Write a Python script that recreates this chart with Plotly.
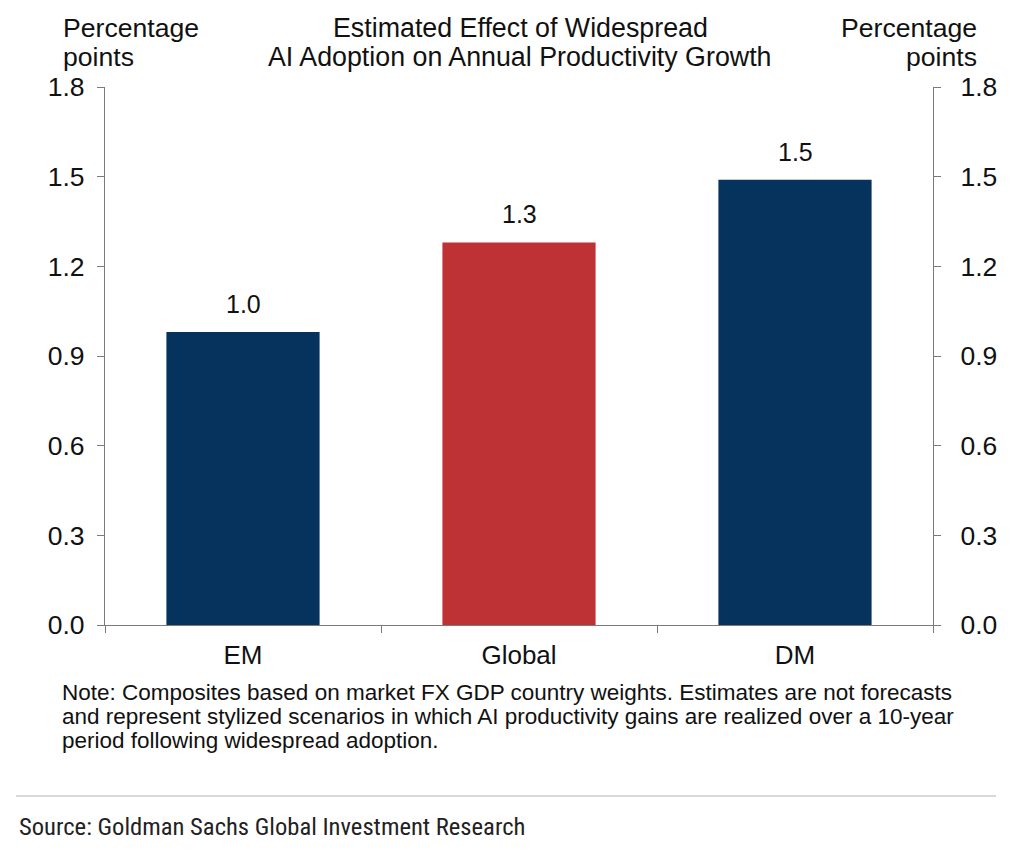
import plotly.graph_objects as go

categories = ["EM", "Global", "DM"]
values = [0.98, 1.28, 1.49]
labels = ["1.0", "1.3", "1.5"]
colors = ["#06325e", "#be3135", "#06325e"]
tick_vals = [0.0, 0.3, 0.6, 0.9, 1.2, 1.5, 1.8]
tick_text = ["0.0", "0.3", "0.6", "0.9", "1.2", "1.5", "1.8"]
title_lines = ["Estimated Effect of Widespread", "AI Adoption on Annual Productivity Growth"]
note_lines = [
    "Note: Composites based on market FX GDP country weights. Estimates are not forecasts",
    "and represent stylized scenarios in which AI productivity gains are realized over a 10-year",
    "period following widespread adoption.",
]
source_text = "Source: Goldman Sachs Global Investment Research"

FONT = "Liberation Sans, Arial, sans-serif"
AX = "#7a7a7a"
TXT = "#111111"

W, H = 1024, 853
L, R, T, B = 105, 91, 87, 228
PH = H - T - B
PW = W - L - R


def py(pix):
    return (H - B - pix) / PH


def px(pix):
    return (pix - L) / PW


fig = go.Figure()
fig.add_trace(go.Bar(
    x=categories, y=values, marker=dict(color=colors, line=dict(width=0)),
    width=0.555, hoverinfo="skip", showlegend=False,
))
fig.add_trace(go.Bar(
    x=categories, y=values, yaxis="y2", opacity=0, width=0.555,
    hoverinfo="skip", showlegend=False,
))

yax = dict(range=[0, 1.8], tickvals=tick_vals, ticktext=tick_text,
           showgrid=False, zeroline=False, showline=True, linecolor=AX, linewidth=1.2,
           ticks="outside", ticklen=7, tickcolor=AX, tickwidth=1.2,
           tickfont=dict(family=FONT, size=26.5, color=TXT))

fig.update_layout(
    width=W, height=H,
    margin=dict(l=L, r=R, t=T, b=B),
    paper_bgcolor="white", plot_bgcolor="white",
    barmode="overlay",
    xaxis=dict(showgrid=False, zeroline=False, showline=True, linecolor=AX, linewidth=1.2,
               ticks="outside", ticklen=7, tickcolor=AX, tickwidth=1.2,
               tickson="boundaries", ticklabelstandoff=7,
               tickfont=dict(family=FONT, size=26, color=TXT)),
    yaxis=dict(**yax, side="left", ticklabelstandoff=7),
    yaxis2=dict(**yax, side="right", overlaying="y", ticklabelstandoff=14),
    font=dict(family=FONT, color=TXT),
)

# bar value labels
for c, v, t in zip(categories, values, labels):
    fig.add_annotation(x=c, y=v, xref="x", yref="y", text=t, showarrow=False,
                       yanchor="bottom", yshift=12,
                       font=dict(family=FONT, size=25, color=TXT))

# title
for i, line in enumerate(title_lines):
    fig.add_annotation(x=px(520), y=py(28 + 29 * i), xref="paper", yref="paper",
                       xanchor="center", yanchor="middle", showarrow=False, text=line,
                       font=dict(family=FONT, size=26.8, color=TXT))

# axis titles
for i, line in enumerate(["Percentage", "points"]):
    fig.add_annotation(x=px(61), y=py(28 + 29 * i), xref="paper", yref="paper",
                       xanchor="left", yanchor="middle", showarrow=False, text=line,
                       font=dict(family=FONT, size=26.6, color=TXT))
    fig.add_annotation(x=px(979), y=py(28 + 29 * i), xref="paper", yref="paper",
                       xanchor="right", yanchor="middle", showarrow=False, text=line,
                       font=dict(family=FONT, size=26.6, color=TXT))

# note
for i, line in enumerate(note_lines):
    fig.add_annotation(x=px(60), y=py(692 + 24 * i), xref="paper", yref="paper",
                       xanchor="left", yanchor="middle", showarrow=False, text=line,
                       font=dict(family=FONT, size=22.5, color=TXT))

fig.add_shape(type="line", xref="paper", yref="paper", x0=px(16), x1=px(996),
              y0=py(796), y1=py(796), line=dict(color="#cccccc", width=1.5))
fig.add_annotation(x=px(17), y=py(826), xref="paper", yref="paper",
                   xanchor="left", yanchor="middle", showarrow=False, text=source_text,
                   font=dict(family="Liberation Sans Narrow, Roboto Condensed, sans-serif",
                             size=24.6, color="#222222"))

fig.write_html("out.html")
